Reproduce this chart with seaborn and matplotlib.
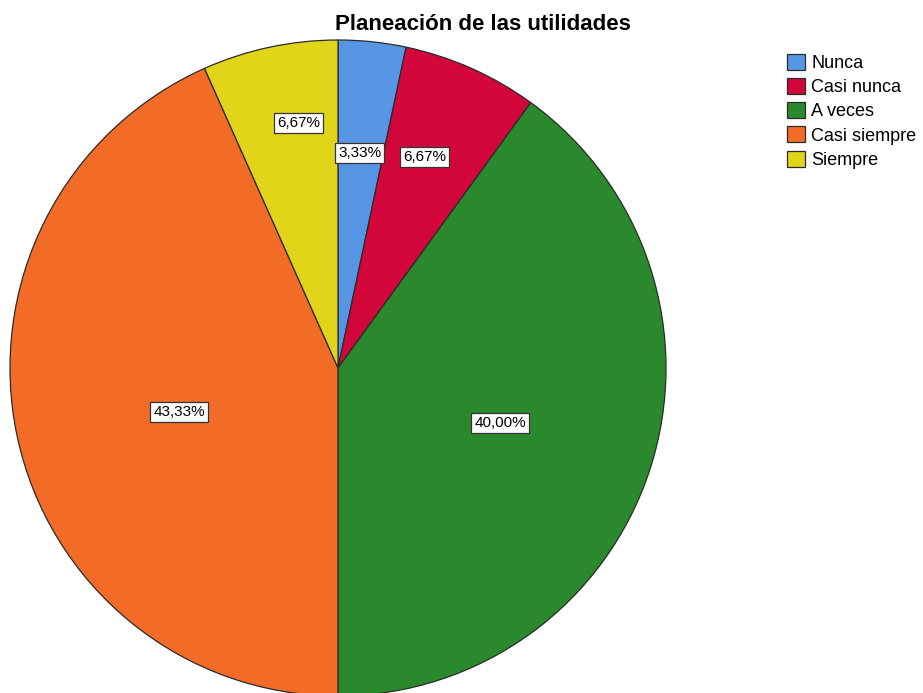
import numpy as np
import pandas as pd
import matplotlib
matplotlib.use("Agg")
import matplotlib.pyplot as plt
import seaborn as sns

# datos
categorias = ["Nunca", "Casi nunca", "A veces", "Casi siempre", "Siempre"]
porcentajes = [3.33, 6.67, 40.00, 43.33, 6.67]
etiquetas = ["3,33%", "6,67%", "40,00%", "43,33%", "6,67%"]
colores = ["#5796E4", "#D3063C", "#2A892C", "#F26B27", "#E1D519"]
# posicion de cada etiqueta: fraccion dentro del sector y distancia radial
frac_etiqueta = [0.48, 0.43, 0.505, 0.478, 0.62]
dist_etiqueta = [0.66, 0.695, 0.522, 0.503, 0.756]

sns.set_theme(style="white")
plt.rcParams["font.family"] = ["Liberation Sans", "DejaVu Sans"]
plt.rcParams["text.color"] = "black"

df = pd.DataFrame({"cat": categorias, "pct": porcentajes})

fig = plt.figure(figsize=(9.23, 6.93), dpi=100)
ax = fig.add_axes([10 / 923, -3 / 693, 656 / 923, 656 / 693])

wedges, _ = ax.pie(df["pct"], colors=colores, startangle=90, counterclock=False,
                   radius=1.0,
                   wedgeprops=dict(edgecolor="#2b2b2b", linewidth=0.9))
ax.set_xlim(-1.0, 1.0)
ax.set_ylim(-1.0, 1.0)
ax.set_aspect("equal")

# sentido horario: theta2 es el inicio, theta1 el final
for w, txt, f, d in zip(wedges, etiquetas, frac_etiqueta, dist_etiqueta):
    ang = np.deg2rad(w.theta2 + f * (w.theta1 - w.theta2))
    ax.text(d * np.cos(ang), d * np.sin(ang), txt, ha="center", va="center",
            fontsize=11, color="black",
            bbox=dict(boxstyle="square,pad=0.2", facecolor="white",
                      edgecolor="#333333", linewidth=0.9))

fig.text(483 / 923, 1 - 24 / 693, "Planeación de las utilidades",
         ha="center", va="center", fontsize=16, fontweight="bold",
         color="black")

leg = fig.legend(wedges, categorias, loc="upper left",
                 bbox_to_anchor=(774 / 923, 1 - 41 / 693),
                 frameon=False, fontsize=13, handlelength=1.0,
                 handleheight=1.0, handletextpad=0.35, labelspacing=0.33,
                 borderpad=0.2, labelcolor="black")

fig.savefig("out.png", dpi=100)
